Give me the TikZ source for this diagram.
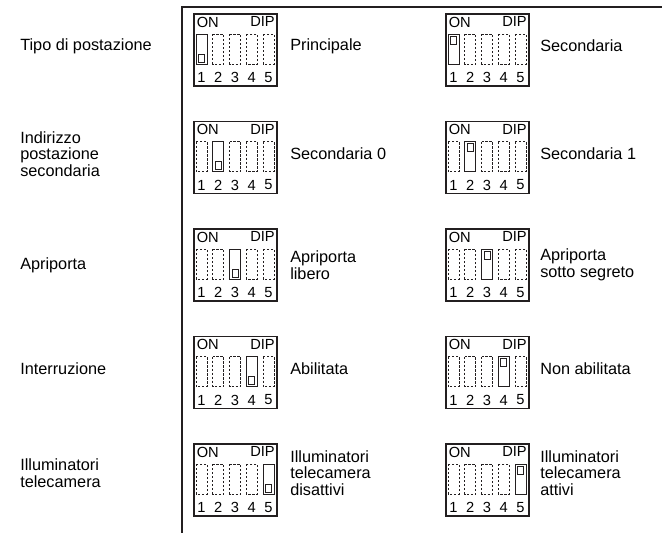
\documentclass[tikz,border=0pt]{standalone}
\usepackage{fontspec}
\setmainfont{Liberation Sans}
\usetikzlibrary{calc}
\definecolor{lineblack}{RGB}{35,31,32}

\tikzset{
  tableline/.style={draw=lineblack, line width=0.9pt},
  dipframe/.style={draw=lineblack, line width=0.8pt},
  sloton/.style={draw=lineblack, line width=0.75pt},
  slotoff/.style={draw=lineblack, line width=0.6pt, dash pattern=on 1.8pt off 1.2pt},
  diptext/.style={inner sep=0pt, font=\fontsize{11}{12}\selectfont},
  rowlabel/.style={anchor=west, align=left, inner sep=0pt, font=\fontsize{12.2}{12.6}\selectfont},
}

% DIP block: #1 name, #2 left, #3 top, #4 switch, #5 lever (1 = up, 0 = down)
\newcommand{\dipblock}[5]{%
  \draw[dipframe] (#2,#3) rectangle ++(83,72);
  \node[diptext, anchor=north west] (#1-on) at (#2+2.5,#3+2.5) {ON};
  \node[diptext, anchor=north east] (#1-dip) at (#2+81,#3+2.5) {DIP};
  \foreach \i in {1,...,5} {
    \ifnum\i=#4
      \draw[sloton] ({#2+2+16.75*(\i-1)},#3+20) rectangle ++(11,30);
    \else
      \draw[slotoff] ({#2+2+16.75*(\i-1)},#3+20) rectangle ++(11,30);
    \fi
    \node[diptext] (#1-n\i) at ({#2+7.5+16.75*(\i-1)},#3+63.5) {\i};
  }
  \ifnum#5=1
    \draw[sloton] ({#2+4.5+16.75*(#4-1)},#3+22) rectangle ++(6,8);
  \else
    \draw[sloton] ({#2+4.5+16.75*(#4-1)},#3+40) rectangle ++(6,8);
  \fi
}

\begin{document}
\begin{tikzpicture}[x=0.75pt, y=-0.75pt]
  \useasboundingbox (0,0) rectangle (662,533);

  % Table frame
  \draw[tableline] (662,7) -- (182,7) -- (182,533);

  % Tipo di postazione
  \node[rowlabel] (lab-tipo) at (20,46) {Tipo di postazione};
  \dipblock{tipo-a}{194}{14}{1}{0}
  \node[rowlabel] (txt-tipo-a) at (290,46) {Principale};
  \dipblock{tipo-b}{446}{14}{1}{1}
  \node[rowlabel] (txt-tipo-b) at (540,46) {Secondaria};

  % Indirizzo postazione secondaria
  \node[rowlabel] (lab-ind) at (20,154) {Indirizzo\\postazione\\secondaria};
  \dipblock{ind-a}{194}{121.5}{2}{0}
  \node[rowlabel] (txt-ind-a) at (290,154) {Secondaria 0};
  \dipblock{ind-b}{446}{121.5}{2}{1}
  \node[rowlabel] (txt-ind-b) at (540,154) {Secondaria 1};

  % Apriporta
  \node[rowlabel] (lab-apr) at (20,265) {Apriporta};
  \dipblock{apr-a}{194}{229}{3}{0}
  \node[rowlabel] (txt-apr-a) at (290,265) {Apriporta\\libero};
  \dipblock{apr-b}{446}{229}{3}{1}
  \node[rowlabel] (txt-apr-b) at (540,265) {Apriporta\\sotto segreto};

  % Interruzione
  \node[rowlabel] (lab-int) at (20,369) {Interruzione};
  \dipblock{int-a}{194}{336.5}{4}{0}
  \node[rowlabel] (txt-int-a) at (290,369) {Abilitata};
  \dipblock{int-b}{446}{336.5}{4}{1}
  \node[rowlabel] (txt-int-b) at (540,369) {Non abilitata};

  % Illuminatori telecamera
  \node[rowlabel] (lab-ill) at (20,473) {Illuminatori\\telecamera};
  \dipblock{ill-a}{194}{444}{5}{0}
  \node[rowlabel] (txt-ill-a) at (290,473) {Illuminatori\\telecamera\\disattivi};
  \dipblock{ill-b}{446}{444}{5}{1}
  \node[rowlabel] (txt-ill-b) at (540,473) {Illuminatori\\telecamera\\attivi};
\end{tikzpicture}
\end{document}
